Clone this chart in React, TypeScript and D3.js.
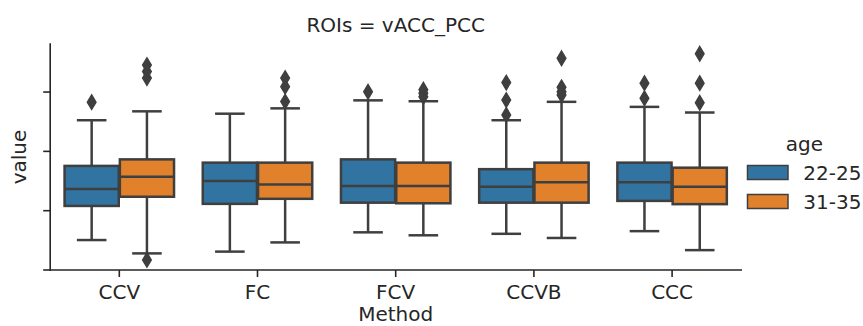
import React from "react";
import * as d3 from "d3";

const categories = ["CCV", "FC", "FCV", "CCVB", "CCC"];
const hues = ["22-25", "31-35"];
const hueColors = ["#3274a1", "#e1812c"];
const yTicks = [0, 0.2, 0.4, 0.6];

// 22-25
const lowA = [0.101, 0.062, 0.127, 0.122, 0.131];
const q1A = [0.216, 0.223, 0.227, 0.227, 0.233];
const medA = [0.273, 0.300, 0.283, 0.281, 0.296];
const q3A = [0.351, 0.362, 0.373, 0.340, 0.362];
const highA = [0.505, 0.527, 0.572, 0.505, 0.550];
const outA = [[0.566], [], [0.601], [0.523, 0.573, 0.632], [0.579, 0.630]];

// 31-35
const lowB = [0.056, 0.093, 0.117, 0.108, 0.067];
const q1B = [0.247, 0.240, 0.225, 0.227, 0.222];
const medB = [0.314, 0.288, 0.283, 0.296, 0.281];
const q3B = [0.373, 0.362, 0.362, 0.362, 0.345];
const highB = [0.535, 0.545, 0.569, 0.567, 0.531];
const outB = [
  [0.034, 0.647, 0.669, 0.691],
  [0.568, 0.618, 0.647],
  [0.584, 0.596, 0.608],
  [0.590, 0.601, 0.616, 0.714],
  [0.564, 0.630, 0.729],
];

const series = [
  { low: lowA, q1: q1A, med: medA, q3: q3A, high: highA, out: outA },
  { low: lowB, q1: q1B, med: medB, q3: q3B, high: highB, out: outB },
];

const W = 863;
const H = 326;
const left = 50.2;
const right = 741.2;
const top = 44;
const bottom = 270;
const FONT = "DejaVu Sans, sans-serif";
const LINE = "#3f3f3f";
const TXT = "#262626";

export default function App() {
  const x = d3.scaleBand<string>().domain(categories).range([left, right]).padding(0);
  const y = d3.scaleLinear().domain([0, 0.762]).range([bottom, top]);
  const bw = x.bandwidth();
  const hueW = (bw * 0.8) / hues.length;
  const boxW = hueW * 0.98;
  const capW = boxW / 2;
  const dh = 7.2;
  const dw = 4.3;

  return (
    <svg
      width={W}
      height={H}
      style={{ position: "absolute", left: 0, top: 0, background: "#fff" }}
      fontFamily={FONT}
    >
      {/* boxes */}
      {categories.map((c, ci) =>
        series.map((s, hi) => {
          const cx = (x(c) as number) + bw / 2 + (hi - (hues.length - 1) / 2) * hueW;
          return (
            <g key={c + hi}>
              <line x1={cx} x2={cx} y1={y(s.q3[ci])} y2={y(s.high[ci])} stroke={LINE} strokeWidth={2.5} />
              <line x1={cx} x2={cx} y1={y(s.q1[ci])} y2={y(s.low[ci])} stroke={LINE} strokeWidth={2.5} />
              <line x1={cx - capW / 2} x2={cx + capW / 2} y1={y(s.high[ci])} y2={y(s.high[ci])} stroke={LINE} strokeWidth={2.5} strokeLinecap="square" />
              <line x1={cx - capW / 2} x2={cx + capW / 2} y1={y(s.low[ci])} y2={y(s.low[ci])} stroke={LINE} strokeWidth={2.5} strokeLinecap="square" />
              <rect
                x={cx - boxW / 2}
                y={y(s.q3[ci])}
                width={boxW}
                height={y(s.q1[ci]) - y(s.q3[ci])}
                fill={hueColors[hi]}
                stroke={LINE}
                strokeWidth={2.5}
              />
              <line x1={cx - boxW / 2} x2={cx + boxW / 2} y1={y(s.med[ci])} y2={y(s.med[ci])} stroke={LINE} strokeWidth={2.5} />
              {s.out[ci].map((v, oi) => {
                const py = y(v);
                return (
                  <path
                    key={oi}
                    d={`M${cx},${py - dh}L${cx + dw},${py}L${cx},${py + dh}L${cx - dw},${py}Z`}
                    fill={LINE}
                    stroke={LINE}
                    strokeWidth={1.5}
                  />
                );
              })}
            </g>
          );
        })
      )}

      {/* axes */}
      <line x1={left} x2={left} y1={top} y2={bottom} stroke={TXT} strokeWidth={1.6} strokeLinecap="square" />
      <line x1={left} x2={right} y1={bottom} y2={bottom} stroke={TXT} strokeWidth={1.6} strokeLinecap="square" />
      {yTicks.map((t) => (
        <line key={t} x1={left - 7} x2={left} y1={y(t)} y2={y(t)} stroke={TXT} strokeWidth={1.6} />
      ))}
      {categories.map((c) => {
        const cx = (x(c) as number) + bw / 2;
        return (
          <g key={c}>
            <line x1={cx} x2={cx} y1={bottom} y2={bottom + 7} stroke={TXT} strokeWidth={1.6} />
            <text x={cx} y={299} textAnchor="middle" fontSize={20} fill={TXT}>
              {c}
            </text>
          </g>
        );
      })}

      <text x={(left + right) / 2} y={32.3} textAnchor="middle" fontSize={20} fill={TXT}>
        ROIs = vACC_PCC
      </text>
      <text x={(left + right) / 2} y={321} textAnchor="middle" fontSize={20} fill={TXT}>
        Method
      </text>
      <text
        transform={`translate(25.5,${(top + bottom) / 2}) rotate(-90)`}
        textAnchor="middle"
        fontSize={20}
        fill={TXT}
      >
        value
      </text>

      {/* legend */}
      <text x={804.5} y={151} textAnchor="middle" fontSize={20} fill={TXT}>
        age
      </text>
      {hues.map((h, i) => (
        <g key={h}>
          <rect x={747.5} y={165.5 + i * 29} width={40.5} height={14} fill={hueColors[i]} stroke={LINE} strokeWidth={1.5} />
          <text x={803.3} y={180 + i * 28.5} fontSize={20} fill={TXT}>
            {h}
          </text>
        </g>
      ))}
    </svg>
  );
}
